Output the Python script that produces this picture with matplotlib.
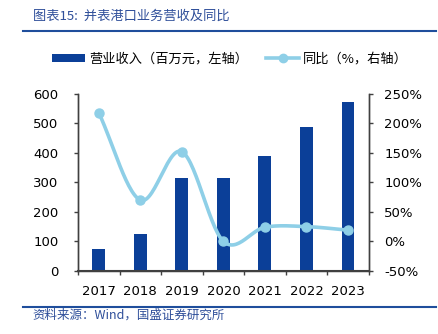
import numpy as np
import matplotlib
matplotlib.use("Agg")
import matplotlib.pyplot as plt
from matplotlib.lines import Line2D
from matplotlib.patches import Patch

plt.rcParams['font.family'] = ['DejaVu Sans', 'Noto Sans CJK SC']

years = ['2017', '2018', '2019', '2020', '2021', '2022', '2023']
revenue = [74, 126, 316, 316, 390, 486, 572]
yoy = [218, 70, 152, 0, 24, 25, 19]

bar_color = '#0B3F98'
line_color = '#8ECFE7'
text_blue = '#2F4F9A'
axis_color = '#404040'

fig = plt.figure(figsize=(4.38, 3.34), dpi=100)
ax = fig.add_axes([0.178, 0.189, 0.664, 0.530])
ax2 = ax.twinx()

x = np.arange(len(years))
ax.bar(x, revenue, width=0.31, color=bar_color, zorder=2)
ax.set_xlim(-0.5, len(years) - 0.5)
ax.set_ylim(0, 600)
ax.set_yticks(range(0, 601, 100))

# smooth line (Catmull-Rom through the data points)
def catmull(xs, ys, n=30):
    xs = np.asarray(xs, float); ys = np.asarray(ys, float)
    px = np.concatenate([[2*xs[0]-xs[1]], xs, [2*xs[-1]-xs[-2]]])
    py = np.concatenate([[2*ys[0]-ys[1]], ys, [2*ys[-1]-ys[-2]]])
    ox, oy = [], []
    for i in range(1, len(px) - 2):
        t = np.linspace(0, 1, n)
        for arr, out in ((px, ox), (py, oy)):
            p0, p1, p2, p3 = arr[i-1], arr[i], arr[i+1], arr[i+2]
            out.extend(0.5*((2*p1) + (-p0+p2)*t + (2*p0-5*p1+4*p2-p3)*t**2 + (-p0+3*p1-3*p2+p3)*t**3))
    return np.array(ox), np.array(oy)

sx, sy = catmull(x, yoy)
ax2.plot(sx, sy, color=line_color, lw=2.6, zorder=3, solid_capstyle='round')
ax2.plot(x, yoy, 'o', color=line_color, ms=6.5, zorder=4)
ax2.set_ylim(-50, 250)
ax2.set_yticks(range(-50, 251, 50))
ax2.set_yticklabels([f'{v}%' for v in range(-50, 251, 50)])

for a in (ax, ax2):
    a.spines['top'].set_visible(False)
    for s in ('left', 'right', 'bottom'):
        a.spines[s].set_color(axis_color)
        a.spines[s].set_linewidth(1.0)
    a.tick_params(axis='y', colors=axis_color, labelcolor='black', labelsize=9.5, length=3, width=1)
ax.spines['bottom'].set_linewidth(1.5)
ax.tick_params(axis='y', pad=11)
ax2.tick_params(axis='y', pad=8)

ax.set_xticks(x)
ax.set_xticklabels(years)
ax.tick_params(axis='x', length=0, labelsize=9.5, pad=10)
ax.set_xticks(np.arange(-0.5, len(years)), minor=True)
ax.tick_params(axis='x', which='minor', length=3, width=1, color=axis_color, direction='out')

# legend
handles = [Patch(facecolor=bar_color, edgecolor='none'),
           Line2D([], [], color=line_color, lw=2.6, marker='o', ms=6)]
labels = ['营业收入（百万元，左轴）', '同比（%，右轴）']
fig.legend(handles, labels, loc='center', bbox_to_anchor=(0.525, 0.823), ncol=2,
           frameon=False, prop={'family': ['Noto Sans CJK SC'], 'size': 9.5},
           handlelength=2.5, handleheight=0.55, columnspacing=1.4, handletextpad=0.3)

# title and source
fig.text(0.075, 0.952, '图表15:  并表港口业务营收及同比', fontsize=9.5, color=text_blue,
         style='italic', family=['Noto Sans CJK SC'], va='center', ha='left')
fig.add_artist(Line2D([0.053, 0.995], [0.907, 0.907], color='#1F4E9C', lw=1.5, transform=fig.transFigure))
fig.add_artist(Line2D([0.053, 0.995], [0.081, 0.081], color='#1F4E9C', lw=1.5, transform=fig.transFigure))
fig.text(0.075, 0.055, '资料来源：Wind，国盛证券研究所', fontsize=9, color=text_blue,
         style='italic', family=['Noto Sans CJK SC', 'DejaVu Sans'], va='center', ha='left')

fig.savefig('out.png', dpi=100)
